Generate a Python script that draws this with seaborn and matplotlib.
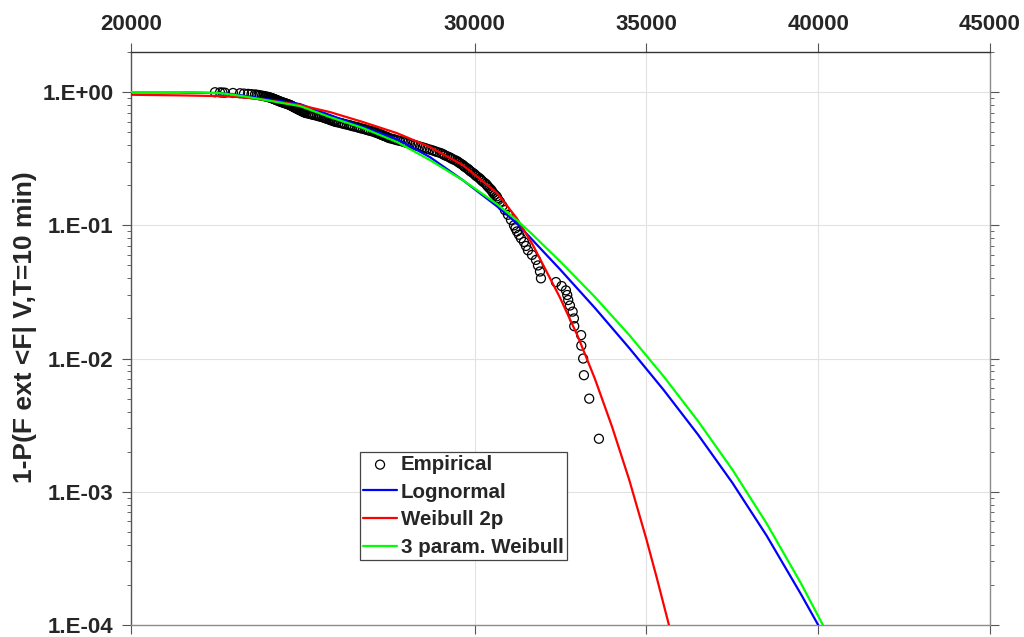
import numpy as np
import pandas as pd
import matplotlib
matplotlib.use("Agg")
import matplotlib.pyplot as plt
import seaborn as sns
from matplotlib.ticker import LogLocator, NullFormatter

# ---- empirical exceedance probabilities (sorted extreme forces) ----
# upper tail, one entry per observation
tail_force = [33618, 33336, 33182, 33159, 33105, 33100, 32900, 32891, 32853,
              32775, 32725, 32696, 32658, 32533, 32368, 31931]
tail_prob = [0.0025, 0.005, 0.0075, 0.01, 0.0125, 0.015, 0.0175, 0.02, 0.0225,
             0.025, 0.0275, 0.03, 0.0325, 0.035, 0.0375, 0.04]

# body of the sample
bulk_force = [
    31902, 31844, 31786, 31669, 31553, 31495, 31436, 31349, 31291, 31233,
    31189, 31145, 31058, 30971, 30883, 30811, 30738,
    30662, 30587, 30511, 30435, 30360, 30272, 30185, 30098, 30010, 29923,
    29842, 29760, 29679, 29597, 29516, 29411, 29306, 29201, 29097, 28992,
    28846, 28701, 28555, 28410, 28264, 28119, 27973, 27828, 27682, 27537,
    27450, 27362, 27275, 27188, 27100, 26984, 26868, 26751, 26635, 26518,
    26402, 26286, 26169, 26053, 25936, 25861, 25785, 25709, 25634, 25558,
    25459, 25360, 25261, 25162, 25063, 25017, 24970, 24924, 24877, 24831,
    24790, 24749, 24708, 24668, 24627, 24569, 24511, 24452, 24394, 24336,
    24289, 24243, 24196, 24150, 24103, 24074, 24045, 24016, 23987, 23943,
    23899, 23856, 23812, 23754, 23710, 23667, 23608, 23507, 23405, 23288,
    23172, 22968, 22735, 22663, 22590, 22444,
]
bulk_prob = [
    0.045, 0.05, 0.055, 0.06, 0.065, 0.07, 0.075, 0.08, 0.085, 0.09,
    0.095, 0.10, 0.11, 0.12, 0.13, 0.14, 0.15,
    0.16, 0.17, 0.18, 0.19, 0.20, 0.21, 0.22, 0.23, 0.24, 0.25,
    0.26, 0.27, 0.28, 0.29, 0.30, 0.31, 0.32, 0.33, 0.34, 0.35,
    0.36, 0.37, 0.38, 0.39, 0.40, 0.41, 0.42, 0.43, 0.44, 0.45,
    0.46, 0.47, 0.48, 0.49, 0.50, 0.51, 0.52, 0.53, 0.54, 0.55,
    0.56, 0.57, 0.58, 0.59, 0.60, 0.61, 0.62, 0.63, 0.64, 0.65,
    0.66, 0.67, 0.68, 0.69, 0.70, 0.71, 0.72, 0.73, 0.74, 0.75,
    0.76, 0.77, 0.78, 0.79, 0.80, 0.81, 0.82, 0.83, 0.84, 0.85,
    0.86, 0.87, 0.88, 0.89, 0.90, 0.905, 0.91, 0.915, 0.92, 0.925,
    0.93, 0.935, 0.94, 0.945, 0.95, 0.955, 0.96, 0.965, 0.97, 0.975,
    0.98, 0.985, 0.99, 0.9925, 0.995, 0.9975,
]

# remaining observations of the body
mid_force = [
    30690, 30640, 30540, 30480, 30390, 30325, 30220, 30150, 30045, 29975,
    29875, 29810, 29710, 29645, 29550, 29470, 29350, 29262, 29140, 29052,
    28910, 28782, 28620, 28490, 28330, 28200, 28040, 27908, 27748, 27616,
    27488, 27412, 27312, 27238, 27138, 27050, 26918, 26816, 26686, 26584,
    26452, 26350, 26220, 26118, 25988, 25905, 25816, 25752, 25665, 25602,
    25500, 25416, 25304, 25218, 25105, 25046, 24988, 24952, 24895, 24860,
    24806, 24774, 24724, 24692, 24644, 24604, 24534, 24488, 24418, 24370,
    24308, 24270, 24214, 24178, 24122,
]
mid_prob = [
    0.155, 0.165, 0.175, 0.185, 0.195, 0.205, 0.215, 0.225, 0.235, 0.245,
    0.255, 0.265, 0.275, 0.285, 0.295, 0.305, 0.315, 0.325, 0.335, 0.345,
    0.355, 0.365, 0.375, 0.385, 0.395, 0.405, 0.415, 0.425, 0.435, 0.445,
    0.455, 0.465, 0.475, 0.485, 0.495, 0.505, 0.515, 0.525, 0.535, 0.545,
    0.555, 0.565, 0.575, 0.585, 0.595, 0.605, 0.615, 0.625, 0.635, 0.645,
    0.655, 0.665, 0.675, 0.685, 0.695, 0.705, 0.715, 0.725, 0.735, 0.745,
    0.755, 0.765, 0.775, 0.785, 0.795, 0.805, 0.815, 0.825, 0.835, 0.845,
    0.855, 0.865, 0.875, 0.885, 0.895,
]

# ---- fitted distributions ----
logn_force = [20000, 21426, 22590, 23172, 23754, 24918, 25791, 26751, 27741,
              28701, 29661, 30651, 31233, 31611, 32484, 33500, 34500, 35500,
              36500, 37500, 38500, 39500, 40000]
logn_prob = [0.998, 0.995, 0.983, 0.95, 0.901, 0.813, 0.672, 0.546, 0.444,
             0.325, 0.218, 0.139, 0.1035, 0.0813, 0.0468, 0.024, 0.0120,
             0.00582, 0.00269, 0.00117, 0.000468, 0.00017, 0.0001]

wb2_force = [20000, 21426, 22590, 23172, 23754, 24918, 25791, 26751, 27741,
             28701, 29661, 30651, 31233, 31698, 32484, 33000, 33500, 34000,
             34500, 35000, 35300, 35700]
wb2_prob = [0.955, 0.945, 0.933, 0.917, 0.886, 0.799, 0.708, 0.596, 0.492,
            0.387, 0.283, 0.175, 0.1125, 0.071, 0.0287, 0.01476, 0.00706,
            0.00308, 0.00123, 0.00044, 0.000227, 0.0000904]

wb3_force = [20000, 21426, 22590, 23172, 23754, 24918, 25791, 26751, 27741,
             28701, 29661, 30651, 31233, 31611, 32484, 33500, 34500, 35500,
             36500, 37500, 38500, 39500, 40137]
wb3_prob = [1.0, 1.0, 0.983, 0.94, 0.886, 0.785, 0.649, 0.537, 0.422, 0.309,
            0.218, 0.1445, 0.109, 0.0889, 0.0538, 0.029, 0.01503, 0.00736,
            0.0034, 0.00147, 0.000578, 0.000205, 0.0001]

x_ticks = [20000, 30000, 35000, 40000, 45000]
y_ticks = [1e-4, 1e-3, 1e-2, 1e-1, 1e0]
y_tick_labels = ["1.E-04", "1.E-03", "1.E-02", "1.E-01", "1.E+00"]

sns.set_theme(style="white")
plt.rcParams["font.family"] = ["Liberation Sans", "DejaVu Sans"]
plt.rcParams["font.weight"] = "bold"

fig = plt.figure(figsize=(10.24, 6.37), dpi=100)
ax = fig.add_axes([131 / 1024, 12 / 637, 859 / 1024, 573 / 637])
ax.set_yscale("log")

emp_df = pd.DataFrame({
    "force": tail_force + bulk_force + mid_force,
    "prob": tail_prob + bulk_prob + mid_prob,
})
sns.scatterplot(data=emp_df, x="force", y="prob", ax=ax, marker="o", s=42,
                facecolors="none", edgecolor="black", linewidth=0.9,
                label="Empirical", zorder=2)

curves = [
    (logn_force, logn_prob, "#0000ff", "Lognormal"),
    (wb2_force, wb2_prob, "#ff0000", "Weibull 2p"),
    (wb3_force, wb3_prob, "#00ff00", "3 param. Weibull"),
]
for fx, fp, col, name in curves:
    sns.lineplot(x=fx, y=fp, ax=ax, color=col, linewidth=1.6, label=name,
                 sort=False, estimator=None, zorder=3)

ax.set_xlim(20000, 45000)
ax.set_ylim(1e-4, 2.0)

# axes furniture
ax.set_xticks(x_ticks)
ax.set_xticklabels([str(v) for v in x_ticks])
ax.set_yticks(y_ticks)
ax.set_yticklabels(y_tick_labels)
ax.yaxis.set_minor_locator(LogLocator(base=10, subs=np.arange(2, 10)))
ax.yaxis.set_minor_formatter(NullFormatter())

ax.tick_params(axis="x", which="major", direction="out", length=6.5, width=0.8,
               top=True, bottom=True, labeltop=True, labelbottom=False,
               labelsize=16, pad=5.5, color="#555555", labelcolor="#262626")
ax.tick_params(axis="y", which="major", direction="out", length=6.5, width=0.8,
               left=True, right=True, labelleft=True, labelright=False,
               labelsize=16, pad=6, color="#555555", labelcolor="#262626")
ax.tick_params(axis="y", which="minor", direction="out", length=3.2, width=0.7,
               left=True, right=True, color="#666666")

ax.grid(True, which="major", color="#e2e2e2", linewidth=0.8)
ax.set_axisbelow(True)

ax.spines["top"].set_color("#333333")
ax.spines["left"].set_color("#555555")
ax.spines["right"].set_color("#8c8c8c")
ax.spines["bottom"].set_color("#8c8c8c")
for sp in ax.spines.values():
    sp.set_linewidth(1.0)
    sp.set_visible(True)

ax.set_xlabel("")
ax.set_ylabel("1-P(F ext <F| V,T=10 min)", fontsize=19, fontweight="bold",
              color="#262626")
ax.yaxis.set_label_coords(-0.1094, 0.52)

leg = ax.legend(loc="upper left", bbox_to_anchor=(0.2666, 0.302),
                borderaxespad=0, prop={"weight": "bold", "size": 14.8},
                frameon=True, fancybox=False, edgecolor="#444444",
                framealpha=1, handlelength=1.65, handletextpad=0.2,
                borderpad=0.15, labelspacing=0.42)
leg.get_frame().set_linewidth(0.9)

fig.savefig("out.png", dpi=100)
